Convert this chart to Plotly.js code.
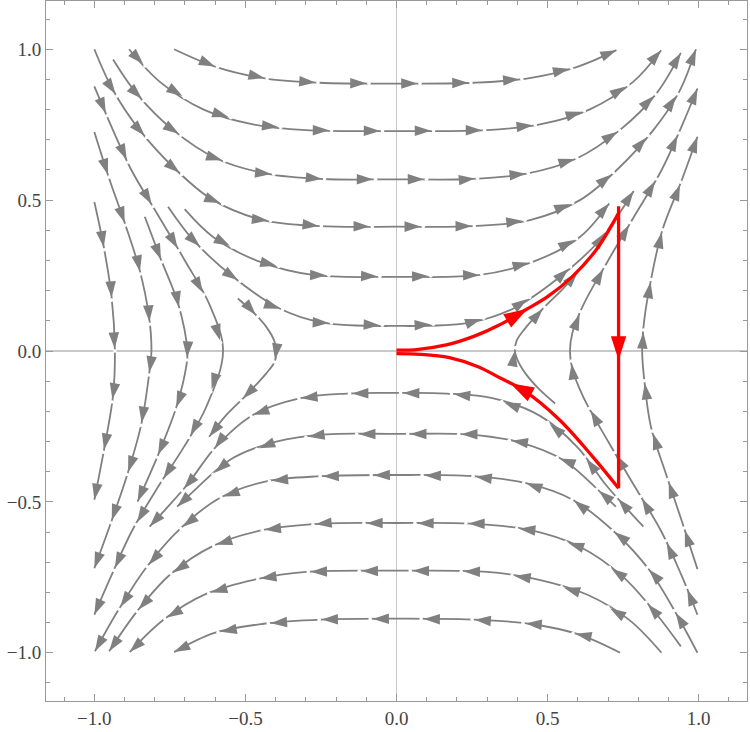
<!DOCTYPE html>
<html><head><meta charset="utf-8">
<script src="https://cdn.plot.ly/plotly-3.0.1.min.js"></script>
<style>html,body{margin:0;padding:0;background:#fff}</style>
</head><body>
<div id="chart" style="width:750px;height:732px"></div>
<script>
// ---- streamlines (flow direction order) ----
const h1x = [-0.736,-0.596,-0.431,-0.255,0,0.255,0.431,0.596,0.728];
const h1y = [1.0,0.941,0.903,0.889,0.886,0.889,0.903,0.941,0.997];
const h2x = [-0.885,-0.783,-0.640,-0.475,-0.299,0,0.299,0.475,0.640,0.783,0.876];
const h2y = [1.0,0.892,0.801,0.751,0.732,0.729,0.732,0.751,0.801,0.892,0.997];
const h3x = [-0.938,-0.860,-0.739,-0.596,-0.431,-0.244,0,0.244,0.431,0.596,0.739,0.860,0.941];
const h3y = [0.966,0.853,0.732,0.638,0.588,0.570,0.569,0.570,0.588,0.638,0.732,0.853,0.988];
const h4x = [-1.0,-0.938,-0.85,-0.728,-0.607,-0.442,-0.255,0,0.255,0.442,0.607,0.728,0.85,0.938,0.991];
const h4y = [1.0,0.864,0.732,0.599,0.5,0.434,0.414,0.412,0.414,0.434,0.5,0.599,0.732,0.864,1.0];
const h5x = [-0.701,-0.607,-0.453,-0.277,0,0.277,0.453,0.607,0.704];
const h5y = [0.470,0.378,0.296,0.252,0.246,0.252,0.296,0.378,0.489];
const h6x = [-0.756,-0.673,-0.541,-0.387,-0.244,0,0.244,0.387,0.541,0.673,0.785];
const h6y = [0.478,0.368,0.246,0.141,0.094,0.083,0.094,0.141,0.246,0.368,0.53];

const h7x = [0.817,0.76,0.69,0.60,0.475,0.321,0.166,0,-0.166,-0.321,-0.475,-0.60,-0.69,-0.76,-0.817];
const h7y = [-0.582,-0.52,-0.44,-0.32,-0.215,-0.157,-0.141,-0.139,-0.141,-0.157,-0.212,-0.32,-0.44,-0.52,-0.582];
const h8x = [0.726,0.673,0.552,0.398,0.232,0,-0.232,-0.398,-0.552,-0.673,-0.726];
const h8y = [-0.516,-0.466,-0.361,-0.30,-0.276,-0.275,-0.276,-0.30,-0.361,-0.466,-0.516];
const h9x = [0.996,0.925,0.836,0.726,0.583,0.429,0.25,0,-0.25,-0.431,-0.585,-0.72,-0.83,-0.925,-0.998];
const h9y = [-1.0,-0.869,-0.725,-0.604,-0.493,-0.438,-0.415,-0.411,-0.415,-0.432,-0.487,-0.593,-0.72,-0.866,-0.995];
const h10x = [0.941,0.858,0.748,0.605,0.44,0.244,0,-0.244,-0.44,-0.605,-0.748,-0.858,-0.951];
const h10y = [-0.979,-0.869,-0.747,-0.648,-0.593,-0.572,-0.570,-0.572,-0.593,-0.645,-0.74,-0.862,-0.995];
const h11x = [0.877,0.77,0.632,0.462,0.3,0,-0.3,-0.462,-0.632,-0.77,-0.883];
const h11y = [-1.0,-0.891,-0.808,-0.756,-0.732,-0.728,-0.732,-0.756,-0.806,-0.89,-0.998];
const h12x = [0.74,0.605,0.44,0.25,0,-0.25,-0.44,-0.605,-0.736];
const h12y = [-1.0,-0.94,-0.904,-0.89,-0.887,-0.89,-0.904,-0.935,-0.998];

const l1x = [-1.0,-0.971,-0.943,-0.932,-0.938,-0.965,-1.0];
const l1y = [0.494,0.357,0.18,0,-0.146,-0.311,-0.493];
const l2x = [-1.0,-0.949,-0.899,-0.850,-0.819,-0.811,-0.817,-0.844,-0.888,-0.944,-1.0];
const l2y = [0.726,0.566,0.423,0.268,0.114,0,-0.063,-0.24,-0.4,-0.566,-0.72];
const l3x = [-0.833,-0.783,-0.723,-0.692,-0.695,-0.728,-0.789,-0.857];
const l3y = [0.445,0.312,0.158,0,-0.046,-0.184,-0.344,-0.499];
const l4x = [-1.0,-0.943,-0.877,-0.789,-0.701,-0.618,-0.574,-0.629,-0.706,-0.789,-0.877,-0.943,-1.0];
const l4y = [0.877,0.743,0.599,0.45,0.301,0.152,0,-0.184,-0.322,-0.45,-0.599,-0.743,-0.874];
const l5x = [-0.525,-0.467,-0.431,-0.405,-0.398,-0.403,-0.431,-0.497,-0.563,-0.62];
const l5y = [0.174,0.121,0.08,0.035,0,-0.035,-0.074,-0.146,-0.212,-0.284];

const r1x = [0.525,0.467,0.431,0.403,0.392,0.398,0.425,0.49,0.55,0.60];
const r1y = [-0.174,-0.121,-0.08,-0.035,0,0.035,0.074,0.146,0.205,0.262];
const r2x = [0.996,0.943,0.877,0.789,0.701,0.618,0.582,0.574,0.582,0.618,0.701,0.789,0.877,0.943,0.996];
const r2y = [-0.874,-0.743,-0.599,-0.45,-0.301,-0.152,-0.06,0,0.06,0.152,0.301,0.45,0.599,0.743,0.87];
const r3x = [0.996,0.945,0.891,0.842,0.82,0.813,0.82,0.842,0.880,0.944,0.996];
const r3y = [-0.723,-0.566,-0.405,-0.251,-0.096,0,0.103,0.235,0.401,0.566,0.71];

// ---- red contour ----
const redUpX = [0,0.06,0.165,0.26,0.34,0.425,0.5,0.58,0.66,0.735];
const redUpY = [0.003,0.004,0.02,0.05,0.086,0.135,0.18,0.245,0.334,0.457];
const redVertX = [0.735,0.735];
const redVertY = [0.48,-0.455];
const redLowX = [0.735,0.649,0.539,0.42,0.34,0.27,0.175,0.08,0];
const redLowY = [-0.455,-0.35,-0.228,-0.13,-0.088,-0.052,-0.022,-0.011,-0.009];
const redArrowFrac = [0.51, 0.545, 0.56];

const tickVals = [-1.0,-0.5,0.0,0.5,1.0];
const tickText = ['\u22121.0','\u22120.5','0.0','0.5','1.0'];

// ---- geometry helpers (pixel scale of the plot area) ----
const W = 750, H = 732, ML = 46, MR = 3, MT = 1, MB = 31;
const XR = [-1.16, 1.16], YR = [-1.16, 1.16];
const SX = (W - ML - MR) / (XR[1] - XR[0]);
const SY = (H - MT - MB) / (YR[1] - YR[0]);

function cumLen(xs, ys) {
  const c = [0];
  for (let i = 1; i < xs.length; i++)
    c.push(c[i-1] + Math.hypot((xs[i]-xs[i-1])*SX, (ys[i]-ys[i-1])*SY));
  return c;
}
function pointAt(xs, ys, c, s) {
  let i = 1;
  while (i < c.length - 1 && c[i] < s) i++;
  const seg = c[i] - c[i-1] || 1;
  const t = Math.max(0, Math.min(1, (s - c[i-1]) / seg));
  const dx = xs[i]-xs[i-1], dy = ys[i]-ys[i-1];
  return {x: xs[i-1] + t*dx, y: ys[i-1] + t*dy,
          ang: Math.atan2(dx*SX, dy*SY) * 180 / Math.PI};
}

const gray = '#808080';
const streams = [
  [h1x,h1y],[h2x,h2y],[h3x,h3y],[h4x,h4y],[h5x,h5y],[h6x,h6y],
  [h7x,h7y],[h8x,h8y],[h9x,h9y],[h10x,h10y],[h11x,h11y],[h12x,h12y],
  [l1x,l1y],[l2x,l2y],[l3x,l3y],[l4x,l4y],[l5x,l5y],
  [r1x,r1y],[r2x,r2y],[r3x,r3y]
];

const traces = [];
const ax = [], ay = [], aa = [];
const gx = [], gy = [];
const SPACING = 51, MINSTART = 18;
streams.forEach(([xs, ys]) => {
  traces.push({type:'scatter', mode:'lines', x:xs, y:ys,
    line:{color:gray, width:1.8, shape:'spline', smoothing:1},
    hoverinfo:'skip', showlegend:false});
  const c = cumLen(xs, ys);
  const L = c[c.length-1];
  for (let s = L; s > MINSTART; s -= SPACING) {
    const p = pointAt(xs, ys, c, s);
    ax.push(p.x); ay.push(p.y); aa.push(p.ang);
    if (s < L - 4) {
      const g = pointAt(xs, ys, c, s + 2.6);
      gx.push(g.x); gy.push(g.y);
    }
  }
});
traces.push({type:'scatter', mode:'markers', x:gx, y:gy,
  marker:{symbol:'circle', size:3.6, color:'#ffffff', line:{width:0}},
  hoverinfo:'skip', showlegend:false});
traces.push({type:'scatter', mode:'markers', x:ax, y:ay,
  marker:{symbol:'arrow', size:17, angle:aa, color:gray, line:{width:0}},
  hoverinfo:'skip', showlegend:false});

const reds = [[redUpX,redUpY],[redVertX,redVertY],[redLowX,redLowY]];
const rax = [], ray = [], raa = [];
reds.forEach(([xs, ys], k) => {
  traces.push({type:'scatter', mode:'lines', x:xs, y:ys,
    line:{color:'#ff0000', width:3.3, shape: xs.length > 2 ? 'spline' : 'linear'},
    hoverinfo:'skip', showlegend:false});
  const c = cumLen(xs, ys);
  const p = pointAt(xs, ys, c, c[c.length-1] * redArrowFrac[k]);
  rax.push(p.x); ray.push(p.y); raa.push(p.ang);
});
traces.push({type:'scatter', mode:'markers', x:rax, y:ray,
  marker:{symbol:'arrow', size:25, angle:raa, color:'#ff0000', line:{width:0}},
  hoverinfo:'skip', showlegend:false});

const axisCommon = {
  showgrid:false, zeroline:true, zerolinecolor:'#c8c8c8', zerolinewidth:1.5,
  showline:true, linecolor:'#999999', linewidth:1, mirror:'allticks',
  ticks:'inside', ticklen:7, tickwidth:1, tickcolor:'#999999',
  tickmode:'array', tickvals:tickVals, ticktext:tickText,
  tickfont:{family:'Liberation Serif, Times New Roman, serif', size:19, color:'#444444'},
  minor:{ticks:'inside', ticklen:4, tickwidth:1, tickcolor:'#999999', dtick:0.1, tick0:0, showgrid:false},
  fixedrange:true
};
const layout = {
  width:W, height:H,
  margin:{l:ML, r:MR, t:MT, b:MB, pad:0},
  paper_bgcolor:'#ffffff', plot_bgcolor:'#ffffff',
  showlegend:false, hovermode:false,
  xaxis:Object.assign({}, axisCommon, {range:XR}),
  yaxis:Object.assign({}, axisCommon, {range:YR})
};
Plotly.newPlot('chart', traces, layout, {staticPlot:true, displayModeBar:false});
</script>
</body></html>
